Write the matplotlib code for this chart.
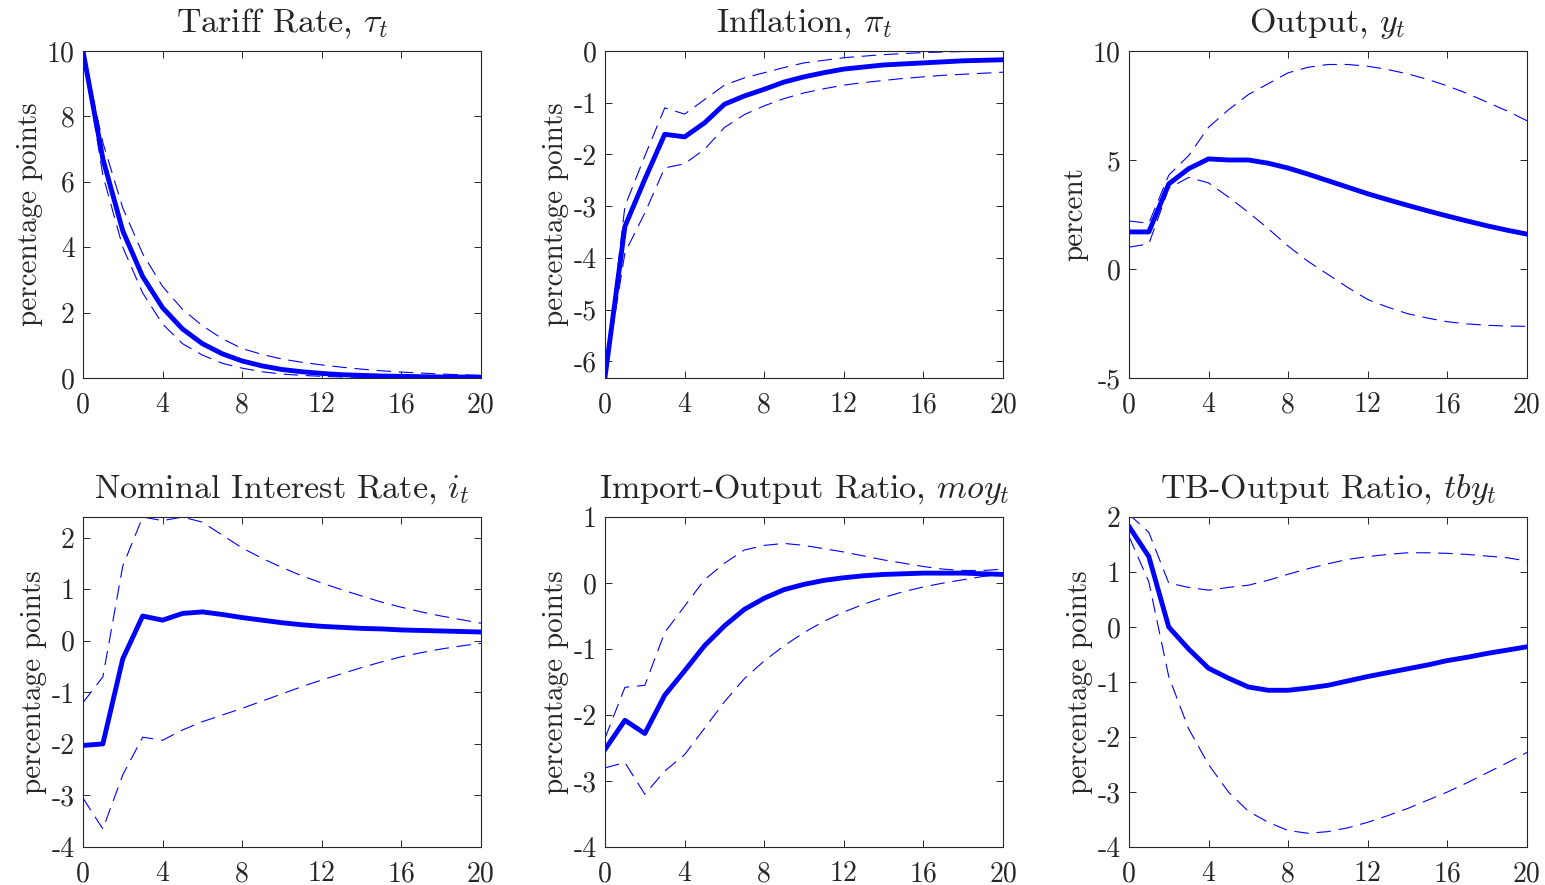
import numpy as np
import matplotlib
matplotlib.use("Agg")
import matplotlib.pyplot as plt

plt.rcParams['font.family'] = 'cmr10'
plt.rcParams['mathtext.fontset'] = 'cm'
plt.rcParams['axes.unicode_minus'] = False

t = list(range(21))

# tariff rate
tau_mean = [10, 6.7, 4.5, 3.1, 2.15, 1.5, 1.05, 0.74, 0.52, 0.37, 0.26, 0.19, 0.14, 0.10, 0.08, 0.06, 0.05, 0.04, 0.03, 0.03, 0.02]
tau_up = [10, 7.2, 5.2, 3.8, 2.8, 2.1, 1.6, 1.2, 0.9, 0.72, 0.58, 0.48, 0.4, 0.33, 0.27, 0.22, 0.18, 0.15, 0.12, 0.1, 0.08]
tau_lo = [10, 6.2, 4.0, 2.6, 1.65, 1.05, 0.7, 0.45, 0.3, 0.19, 0.12, 0.08, 0.05, 0.03, 0.02, 0.01, 0.01, 0.0, 0.0, 0.0, 0.0]

# inflation
pi_mean = [-6.3, -3.39, -2.48, -1.61, -1.66, -1.39, -1.03, -0.87, -0.74, -0.6, -0.5, -0.42, -0.35, -0.31, -0.27, -0.25, -0.23, -0.21, -0.19, -0.18, -0.17]
pi_up = [-6.3, -3.0, -2.03, -1.1, -1.22, -0.94, -0.66, -0.52, -0.42, -0.32, -0.23, -0.18, -0.13, -0.1, -0.07, -0.05, -0.03, -0.02, -0.01, 0.0, 0.0]
pi_lo = [-6.3, -3.9, -3.13, -2.26, -2.18, -1.9, -1.48, -1.23, -1.06, -0.92, -0.81, -0.73, -0.66, -0.61, -0.57, -0.53, -0.5, -0.47, -0.45, -0.43, -0.41]

# output
y_mean = [1.7, 1.7, 3.9, 4.6, 5.05, 5.0, 5.0, 4.85, 4.63, 4.35, 4.05, 3.75, 3.45, 3.18, 2.92, 2.67, 2.43, 2.2, 1.98, 1.78, 1.6]
y_up = [2.2, 2.1, 4.3, 5.2, 6.5, 7.3, 8.0, 8.5, 9.0, 9.25, 9.38, 9.38, 9.3, 9.15, 8.95, 8.7, 8.4, 8.05, 7.65, 7.25, 6.8]
y_lo = [1.0, 1.15, 3.7, 4.2, 3.95, 3.3, 2.6, 1.85, 1.05, 0.35, -0.25, -0.85, -1.4, -1.75, -2.05, -2.25, -2.42, -2.52, -2.58, -2.62, -2.63]

# nominal interest rate
i_mean = [-2.03, -2.0, -0.35, 0.48, 0.4, 0.53, 0.56, 0.51, 0.45, 0.4, 0.35, 0.31, 0.28, 0.26, 0.24, 0.23, 0.21, 0.2, 0.19, 0.18, 0.17]
i_up = [-1.2, -0.7, 1.45, 2.4, 2.33, 2.4, 2.3, 2.05, 1.8, 1.6, 1.42, 1.26, 1.12, 0.99, 0.87, 0.75, 0.65, 0.56, 0.48, 0.41, 0.34]
i_lo = [-3.05, -3.65, -2.6, -1.87, -1.93, -1.73, -1.57, -1.44, -1.31, -1.17, -1.03, -0.89, -0.76, -0.64, -0.52, -0.41, -0.31, -0.23, -0.16, -0.1, -0.05]

# import-output ratio
moy_mean = [-2.52, -2.08, -2.28, -1.7, -1.33, -0.95, -0.65, -0.4, -0.23, -0.1, -0.02, 0.04, 0.08, 0.11, 0.13, 0.14, 0.15, 0.15, 0.15, 0.14, 0.13]
moy_up = [-2.35, -1.58, -1.55, -0.75, -0.35, 0.05, 0.3, 0.5, 0.57, 0.6, 0.57, 0.52, 0.47, 0.41, 0.35, 0.3, 0.25, 0.21, 0.19, 0.19, 0.21]
moy_lo = [-2.8, -2.72, -3.2, -2.85, -2.6, -2.2, -1.8, -1.45, -1.18, -0.95, -0.75, -0.58, -0.44, -0.32, -0.22, -0.13, -0.06, 0.0, 0.05, 0.1, 0.13]

# trade balance-output ratio
tby_mean = [1.83, 1.28, 0.0, -0.4, -0.75, -0.93, -1.09, -1.15, -1.15, -1.11, -1.06, -0.98, -0.9, -0.83, -0.76, -0.69, -0.61, -0.55, -0.48, -0.42, -0.36]
tby_up = [2.05, 1.72, 0.8, 0.72, 0.67, 0.72, 0.76, 0.85, 0.96, 1.06, 1.15, 1.23, 1.28, 1.32, 1.35, 1.35, 1.34, 1.32, 1.29, 1.26, 1.2]
tby_lo = [1.65, 0.82, -0.9, -1.85, -2.5, -3.0, -3.35, -3.55, -3.7, -3.75, -3.72, -3.65, -3.55, -3.43, -3.3, -3.15, -3.0, -2.83, -2.65, -2.47, -2.28]

titles = [r"Tariff Rate, $\tau_t$", r"Inflation, $\pi_t$", r"Output, $y_t$",
          r"Nominal Interest Rate, $i_t$", r"Import-Output Ratio, $moy_t$", r"TB-Output Ratio, $tby_t$"]
ylabels = ["percentage points", "percentage points", "percent",
           "percentage points", "percentage points", "percentage points"]
series = [(tau_mean, tau_up, tau_lo), (pi_mean, pi_up, pi_lo), (y_mean, y_up, y_lo),
          (i_mean, i_up, i_lo), (moy_mean, moy_up, moy_lo), (tby_mean, tby_up, tby_lo)]
ylims = [(0, 10), (-6.32, 0), (-5, 10), (-4, 2.4), (-4, 1), (-4, 2)]
yticks = [range(0, 11, 2), range(-6, 1), range(-5, 11, 5), range(-4, 3), range(-4, 2), range(-4, 3)]

grey = '#262626'
fig = plt.figure(figsize=(15.45, 8.85), dpi=100)
lefts = [0.0537, 0.3916, 0.7307]
rows = [(0.5729, 0.3695), (0.0429, 0.3729)]

for k in range(6):
    r, c = divmod(k, 3)
    ax = fig.add_axes([lefts[c], rows[r][0], 0.2576, rows[r][1]])
    m, up, lo = series[k]
    ax.plot(t, up, color='blue', lw=0.8, dashes=(13, 7))
    ax.plot(t, lo, color='blue', lw=0.8, dashes=(13, 7))
    ax.plot(t, m, color='blue', lw=3.5)
    ax.set_xlim(0, 20)
    ax.set_ylim(*ylims[k])
    ax.set_xticks(range(0, 21, 4))
    ax.set_yticks(list(yticks[k]))
    ax.tick_params(direction='in', top=True, right=True, length=5, width=0.7,
                   labelsize=20, colors=grey)
    ax.tick_params(axis='x', pad=10)
    ax.tick_params(axis='y', pad=6)
    for s in ax.spines.values():
        s.set_color(grey)
        s.set_linewidth(0.8)
    ax.set_title(titles[k], fontsize=24.5, color=grey, pad=14)
    ax.set_ylabel(ylabels[k], fontsize=21, color=grey, labelpad=3)

fig.savefig("out.png", dpi=100)
